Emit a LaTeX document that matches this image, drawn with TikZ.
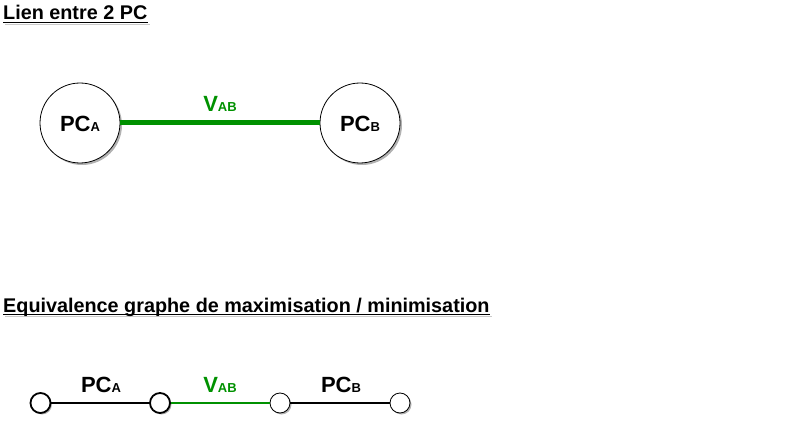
\documentclass[tikz,border=0pt]{standalone}
\usepackage{fontspec}
\setmainfont{Liberation Sans}
\usetikzlibrary{shadows}
\definecolor{vgreen}{RGB}{0,145,0}
\definecolor{shad}{RGB}{150,150,150}
\newcommand\mysub[2]{#1{\fontsize{13}{13}\selectfont #2}}
\tikzset{
  ttl/.style={font=\fontsize{19.8}{22}\selectfont\bfseries, inner sep=0pt, anchor=base west},
  lbl/.style={font=\fontsize{22}{22}\selectfont\bfseries, inner sep=0pt, anchor=base},
  uline/.style={line width=1.4pt},
  bigpc/.style={circle, draw=black, fill=white, minimum size=80pt, inner sep=0pt, line width=0.8pt,
    drop shadow={shadow xshift=2pt, shadow yshift=-2pt, fill=black, opacity=0.3}},
  dotA/.style={circle, draw=black, fill=white, minimum size=20pt, inner sep=0pt, line width=1.8pt,
    drop shadow={shadow xshift=1.5pt, shadow yshift=-1.5pt, fill=black, opacity=0.3}},
  dotB/.style={circle, draw=black, fill=white, minimum size=20pt, inner sep=0pt, line width=0.8pt,
    drop shadow={shadow xshift=1.5pt, shadow yshift=-1.5pt, fill=black, opacity=0.3}},
  edgeblack/.style={line width=1.8pt, draw=black},
  edgegreen/.style={line width=1.5pt, draw=vgreen},
  edgebig/.style={line width=5pt, draw=vgreen},
}
\begin{document}
\begin{tikzpicture}[x=1pt,y=-1pt]
\useasboundingbox (0,0) rectangle (812,425);
% Title 1
\node[ttl] (t1) at (3,20) {Lien entre 2 PC};
\draw[uline,draw=shad,opacity=0.5] ([xshift=2pt,yshift=-4.5pt]t1.base west) -- ([xshift=2pt,yshift=-4.5pt]t1.base east);
\draw[uline] ([yshift=-2.5pt]t1.base west) -- ([yshift=-2.5pt]t1.base east);

% Top graph
\node[bigpc] (pa) at (80,123) {};
\node[bigpc] (pb) at (360,123) {};
\draw[edgebig] (pa.east) -- (pb.west);
\node[lbl] (pat) at (80,132) {\mysub{PC}{A}};
\node[lbl] (pbt) at (360,132) {\mysub{PC}{B}};
\node[lbl,text=vgreen] (vt) at (220,112) {\mysub{V}{AB}};

% Title 2
\node[ttl] (t2) at (3,312) {Equivalence graphe de maximisation / minimisation};
\draw[uline,draw=shad,opacity=0.5] ([xshift=2pt,yshift=-4.5pt]t2.base west) -- ([xshift=2pt,yshift=-4.5pt]t2.base east);
\draw[uline] ([yshift=-2.5pt]t2.base west) -- ([yshift=-2.5pt]t2.base east);

% Bottom graph
\node[dotA] (n1) at (40.5,403) {};
\node[dotA] (n2) at (160,403) {};
\node[dotB] (n3) at (280,403) {};
\node[dotB] (n4) at (400,403) {};
\draw[edgeblack] (n1.east) -- (n2.west);
\draw[edgegreen] (n2.east) -- (n3.west);
\draw[edgeblack] (n3.east) -- (n4.west);
\node[lbl] (l1) at (101,392) {\mysub{PC}{A}};
\node[lbl,text=vgreen] (l2) at (220,392) {\mysub{V}{AB}};
\node[lbl] (l3) at (341,392) {\mysub{PC}{B}};
\end{tikzpicture}
\end{document}
